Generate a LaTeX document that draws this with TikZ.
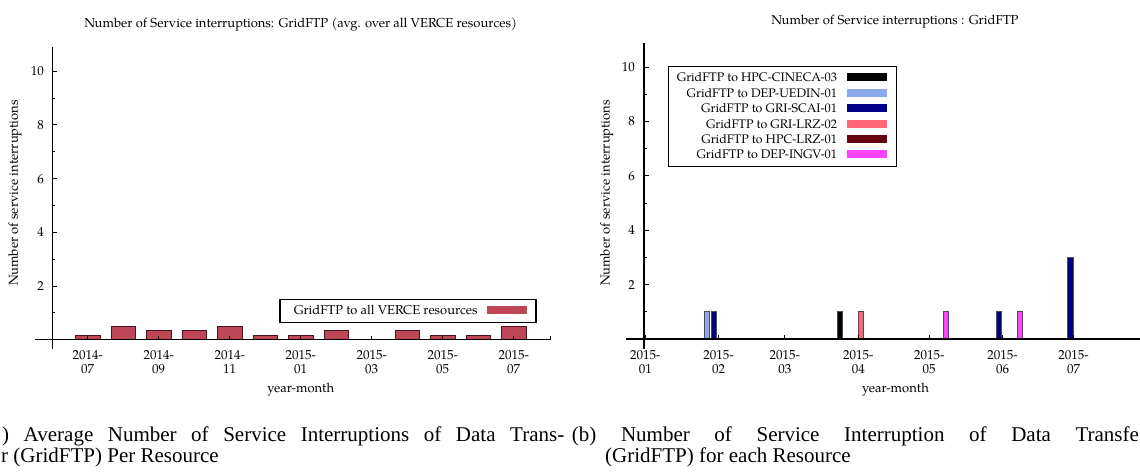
\documentclass[tikz,border=0pt]{standalone}
\usepackage{fontspec}
\newfontfamily\capfont{Liberation Serif}
\newfontfamily\plotfont{TeX Gyre Pagella}
\definecolor{avgbar}{RGB}{191,70,86}
\definecolor{avgedge}{RGB}{70,20,30}
\definecolor{cineca}{RGB}{0,0,0}
\definecolor{uedin}{RGB}{138,170,236}
\definecolor{scai}{RGB}{0,0,136}
\definecolor{grilrz}{RGB}{255,102,119}
\definecolor{hpclrz}{RGB}{102,0,17}
\definecolor{ingv}{RGB}{255,68,255}
\tikzset{
  axisline/.style={line width=1.5pt},
  majtick/.style={line width=1pt},
  lbl/.style={font=\plotfont\fontsize{13}{14}\selectfont, inner sep=0pt},
  leglbl/.style={font=\plotfont\fontsize{12.4}{14}\selectfont, inner sep=0pt, anchor=east},
  ticklbl/.style={lbl, align=center},
  bar/.style={line width=0.8pt},
  legbox/.style={draw, line width=1.2pt},
  captext/.style={font=\capfont\fontsize{21}{24}\selectfont, inner sep=0pt, anchor=base west},
}
\begin{document}
\begin{tikzpicture}[x=1pt,y=-1pt]
\useasboundingbox (0,0) rectangle (1140,472);

% ---------------- left panel: average over all resources ----------------
\node[lbl] (ltitle) at (300.7,25) {Number of Service interruptions: GridFTP (avg. over all VERCE resources)};
\node[lbl, rotate=90] (lylab) at (15,193) {Number of service interruptions};
\node[lbl] (lxlab) at (300.8,390) {year-month};

% bars
\foreach \i/\h in {0/0.1667,1/0.5,2/0.3333,3/0.3333,4/0.5,5/0.1667,6/0.1667,7/0.3333,9/0.3333,10/0.1667,11/0.1667,12/0.5}{
  \pgfmathsetmacro{\xc}{87.7+35.5*\i}
  \draw[bar, fill=avgbar, draw=avgedge] (\xc-12.25,339.7) rectangle (\xc+12.25,339.7-26.84*\h);
}
% axes
\draw[axisline] (35,339.7) -- (550,339.7);
\draw[axisline] (52.3,47.3) -- (52.3,349.3);
\foreach \v in {2,4,...,10}{
  \draw[majtick] (52.3,339.7-26.84*\v) -- ++(5,0);
  \node[lbl, anchor=east] (ly\v) at (44,339.7-26.84*\v) {\v};
}
\foreach \v in {1,3,...,9}{
  \draw[majtick] (52.3,339.7-26.84*\v) -- ++(2.5,0);
}
\foreach \i/\yr/\mo in {0/2014/07,2/2014/09,4/2014/11,6/2015/01,8/2015/03,10/2015/05,12/2015/07}{
  \pgfmathsetmacro{\xc}{87.7+35.5*\i}
  \draw[majtick] (\xc,339.7) -- ++(0,-4);
  \node[ticklbl] (lx\i) at (\xc,362) {\yr-\\\mo};
}
\draw[majtick] (550,339.7) -- ++(0,-4);

% legend
\node[legbox, minimum width=256pt, minimum height=23pt, anchor=north west] (lleg) at (279.3,298.7) {};
\node[leglbl, font=\plotfont\fontsize{12.9}{14}\selectfont] (llegtxt) at (477.7,310.3) {GridFTP to all VERCE resources};
\fill[avgbar] (486.7,306.3) rectangle (527,314.3);

% ---------------- right panel: per resource ----------------
\node[lbl] (rtitle) at (895,21.7) {Number of Service interruptions : GridFTP};
\node[lbl, rotate=90] (rylab) at (606.7,193) {Number of service interruptions};
\node[lbl] (rxlab) at (895.5,390) {year-month};

% bars (left edge / right edge / colour / count)
\foreach \a/\b/\c/\h in {704.5/709.3/uedin/1, 711.8/716.5/scai/1, 837.6/842.7/cineca/1,
  858.4/863.5/grilrz/1, 943.5/948.5/ingv/1, 996.5/1001.6/scai/1, 1017/1022/ingv/1, 1067.5/1073.3/scai/3}{
  \draw[bar, fill=\c, draw=black!70] (\a,339) rectangle (\b,339-27.17*\h);
}
% axes
\draw[axisline] (626,339) -- (1140,339);
\draw[axisline] (644,43.3) -- (644,349);
\foreach \v in {2,4,...,10}{
  \draw[majtick] (644,339-27.17*\v) -- ++(5,0);
  \node[lbl, anchor=east] (ry\v) at (635,339-27.17*\v) {\v};
}
\foreach \v in {1,3,...,9}{
  \draw[majtick] (644,339-27.17*\v) -- ++(2.5,0);
}
\foreach \d/\mo in {0/01,31/02,59/03,90/04,120/05,151/06,181/07}{
  \pgfmathsetmacro{\xc}{645.3+2.366*\d}
  \draw[majtick] (\xc,339) -- ++(0,-4);
  \node[ticklbl] (rx\mo) at (\xc,362) {2015-\\\mo};
}

% legend
\node[legbox, minimum width=228pt, minimum height=99.7pt, anchor=north west] (rleg) at (667.7,66) {};
\foreach \y/\txt/\c in {77.3/HPC-CINECA-03/cineca, 93/DEP-UEDIN-01/uedin, 108.3/GRI-SCAI-01/scai,
  123.7/GRI-LRZ-02/grilrz, 139/HPC-LRZ-01/hpclrz, 154.3/DEP-INGV-01/ingv}{
  \node[leglbl] (rl\txt) at (837.3,\y) {GridFTP to \txt};
  \fill[\c] (846.7,\y-4) rectangle (887,\y+4);
}

% ---------------- captions ----------------
\node[captext] (capa1) at (2,441.5) {\makebox[562pt][s]{) Average Number of Service Interruptions of Data Trans-}};
\node[captext] (capa2) at (1,462) {r (GridFTP) Per Resource};
\node[captext] (capb1) at (571.7,441.5) {\makebox[567pt][s]{(b) Number of Service Interruption of Data Transfe}};
\node[captext] (capb2) at (605,462) {(GridFTP) for each Resource};
\end{tikzpicture}
\end{document}
